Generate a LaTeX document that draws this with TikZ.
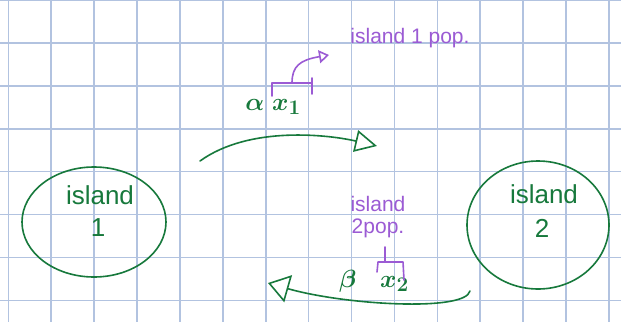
\documentclass[tikz,border=0pt]{standalone}
\usepackage{fontspec}
\setmainfont{Liberation Sans}
\usetikzlibrary{shapes.geometric,arrows.meta}
\definecolor{ink}{HTML}{17793C}
\definecolor{pur}{HTML}{9B5BD4}
\definecolor{gridc}{HTML}{B2C3E0}
\begin{document}
\begin{tikzpicture}[x=1pt,y=-1pt,
  island/.style={ellipse, draw=ink, line width=1.6pt, inner sep=0pt},
  gtext/.style={text=ink, inner sep=0pt, font=\fontsize{26}{28}\selectfont},
  gmath/.style={text=ink, inner sep=0pt, font=\fontsize{30}{32}\selectfont\boldmath},
  ptext/.style={text=pur, inner sep=0pt, font=\fontsize{21}{22}\selectfont, align=center},
  conn/.style={draw=ink, line width=1.6pt, line cap=round},
  pline/.style={draw=pur, line width=1.6pt, line cap=round, line join=round}]
\useasboundingbox (0,0) rectangle (621,322);
\fill[white] (0,0) rectangle (621,322);
\foreach \i in {0,...,14} \draw[gridc, line width=1.6pt] ({8.3+42.9*\i},0) -- ({8.3+42.9*\i},322);
\foreach \j in {0,...,7} \draw[gridc, line width=1.6pt] (0,{42.9*\j}) -- (621,{42.9*\j});

% islands
\node[island, minimum width=144pt, minimum height=110pt] (isl1) at (94,222) {};
\node[island, minimum width=142pt, minimum height=128pt] (isl2) at (538,225) {};
\node[gtext] (isl1a) at (100,195) {island};
\node[gtext] (isl1b) at (98,228) {1};
\node[gtext] (isl2a) at (544,194) {island};
\node[gtext] (isl2b) at (542,228) {2};

% migration arrows
\coordinate (a1s) at (200,161);
\coordinate (a1e) at (377,146);
\draw[conn, -{Triangle[open, length=22pt, width=22pt]}] (a1s) .. controls (250,125) and (330,135) .. (a1e);
\coordinate (a2s) at (470,291);
\coordinate (a2e) at (268,283);
\draw[conn, -{Triangle[open, length=21pt, width=28pt]}] (a2s) .. controls (465,312) and (345,305) .. (a2e);

% rates
\node[gmath] (ax1) at (273,107) {$\alpha\;x_{1}$};
\node[gmath] (bx2) at (374,281) {$\beta\;\;\;x_{2}$};

% labels
\node[ptext] (pop1) at (410,38) {island 1 pop.};
\node[ptext] (pop2) at (378,217) {island\\2pop.};

% brackets
\coordinate (br1) at (292,83);
\draw[pline] (272,96) -- (272,83) -- (312,83);
\draw[pline] (312,78) -- (312,94);
\draw[pline, -{Triangle[open, length=10pt, width=13pt]}] (br1) .. controls (292,66) and (300,60) .. (329,55);
\coordinate (br2) at (385,262);
\draw[pline] (385,247) -- (br2);
\draw[pline] (377,272) -- (378,262) -- (403,262) -- (404,280);
\end{tikzpicture}
\end{document}
